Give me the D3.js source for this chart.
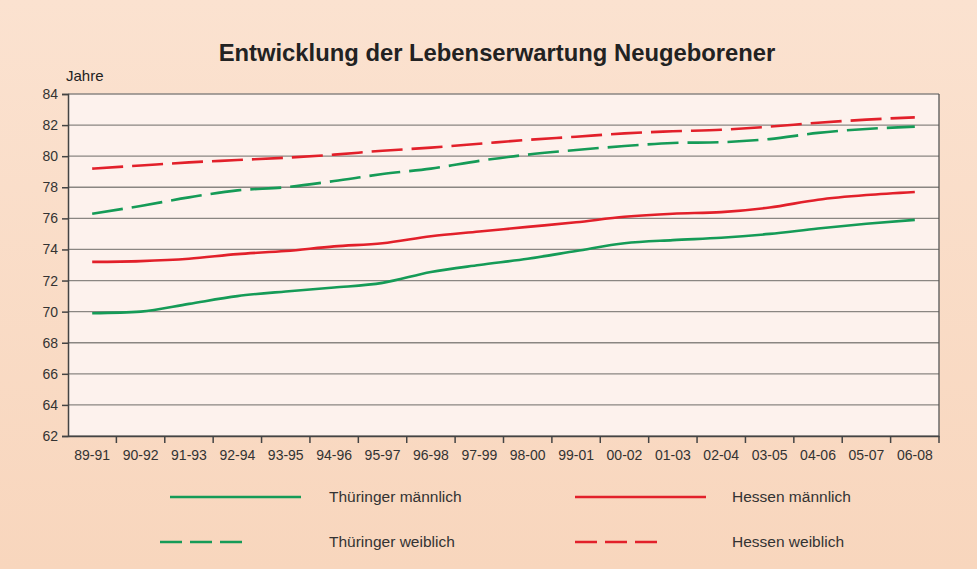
<!DOCTYPE html>
<html>
<head>
<meta charset="utf-8">
<script src="https://cdn.jsdelivr.net/npm/d3@7"></script>
<style>
  body { margin: 0; padding: 0; }
  #chart { width: 977px; height: 569px; }
  text { font-family: "Liberation Sans", Arial, sans-serif; fill: #333; }
</style>
</head>
<body>
<div id="chart"></div>
<script>
// periods on the x axis
const periods = ["89-91", "90-92", "91-93", "92-94", "93-95", "94-96", "95-97", "96-98", "97-99",
    "98-00", "99-01", "00-02", "01-03", "02-04", "03-05", "04-06", "05-07", "06-08"];

// life expectancy in years
const thueringenM = [69.9, 70.0, 70.5, 71.0, 71.3, 71.55, 71.85, 72.55, 73.0, 73.4, 73.9, 74.4,
    74.6, 74.75, 75.0, 75.35, 75.65, 75.9];
const thueringenW = [76.3, 76.8, 77.35, 77.8, 78.0, 78.4, 78.85, 79.2, 79.7, 80.1, 80.4, 80.65,
    80.85, 80.9, 81.1, 81.5, 81.75, 81.9];
const hessenM = [73.2, 73.25, 73.4, 73.7, 73.9, 74.2, 74.4, 74.85, 75.15, 75.45, 75.75, 76.1,
    76.3, 76.4, 76.7, 77.2, 77.5, 77.7];
const hessenW = [79.2, 79.4, 79.6, 79.75, 79.9, 80.1, 80.35, 80.55, 80.8, 81.05, 81.25, 81.47,
    81.6, 81.7, 81.9, 82.15, 82.35, 82.5];

const yTicks = [62, 64, 66, 68, 70, 72, 74, 76, 78, 80, 82, 84];

const seriesNames = ["Thüringer männlich", "Hessen männlich", "Thüringer weiblich", "Hessen weiblich"];

const green = "#159b57";
const red = "#e2202a";

const series = [
    {name: seriesNames[0], values: thueringenM, color: green, dashed: false},
    {name: seriesNames[1], values: hessenM, color: red, dashed: false},
    {name: seriesNames[2], values: thueringenW, color: green, dashed: true},
    {name: seriesNames[3], values: hessenW, color: red, dashed: true}
];

const W = 977, H = 569;
const margin = {top: 94, right: 38, bottom: 133, left: 68};
const width = W - margin.left - margin.right;
const height = H - margin.top - margin.bottom;

const svg = d3.select("#chart").append("svg")
    .attr("width", W)
    .attr("height", H);

// background gradient
const defs = svg.append("defs");
const grad = defs.append("linearGradient")
    .attr("id", "bg")
    .attr("x1", 0).attr("y1", 0).attr("x2", 0).attr("y2", 1);
grad.append("stop").attr("offset", "0%").attr("stop-color", "#fbe2d0");
grad.append("stop").attr("offset", "100%").attr("stop-color", "#f8d6bd");

svg.append("rect")
    .attr("width", W).attr("height", H)
    .attr("fill", "url(#bg)");

// title
svg.append("text")
    .attr("x", 497)
    .attr("y", 61)
    .attr("text-anchor", "middle")
    .style("font-size", "23.8px")
    .style("font-weight", "bold")
    .style("fill", "#222")
    .text("Entwicklung der Lebenserwartung Neugeborener");

const g = svg.append("g")
    .attr("transform", `translate(${margin.left},${margin.top})`);

// scales
const x = d3.scaleBand()
    .domain(periods)
    .range([0, width]);

const y = d3.scaleLinear()
    .domain([62, 84])
    .range([height, 0]);

// plot area
g.append("rect")
    .attr("width", width)
    .attr("height", height)
    .attr("fill", "#fdf2ed");

// gridlines
g.append("g")
    .attr("class", "grid")
    .selectAll("line")
    .data(yTicks)
    .enter().append("line")
    .attr("x1", 0)
    .attr("x2", width)
    .attr("y1", d => y(d))
    .attr("y2", d => y(d))
    .attr("stroke", "#8a8682")
    .attr("stroke-width", 1.3);

// right border
g.append("line")
    .attr("x1", width).attr("x2", width)
    .attr("y1", 0).attr("y2", height)
    .attr("stroke", "#555")
    .attr("stroke-width", 1.3);

// y axis
const yAxis = g.append("g")
    .call(d3.axisLeft(y).tickValues(yTicks).tickSize(6).tickPadding(4));
yAxis.select(".domain").attr("stroke", "#444").attr("stroke-width", 1.5);
yAxis.selectAll(".tick line").attr("stroke", "#444").attr("stroke-width", 1.5);
yAxis.selectAll("text")
    .style("font-size", "14px")
    .style("fill", "#333")
    .attr("font-family", null);

// x axis with ticks between the periods
const xAxis = g.append("g")
    .attr("transform", `translate(0,${height})`)
    .call(d3.axisBottom(x).tickSize(0).tickPadding(14));
xAxis.select(".domain").attr("stroke", "#444").attr("stroke-width", 1.5);
xAxis.selectAll("text")
    .style("font-size", "14px")
    .style("fill", "#333")
    .attr("font-family", null);

xAxis.selectAll(".sep")
    .data(periods)
    .enter().append("line")
    .attr("class", "sep")
    .attr("x1", d => x(d) + x.bandwidth())
    .attr("x2", d => x(d) + x.bandwidth())
    .attr("y1", 0)
    .attr("y2", 7)
    .attr("stroke", "#444")
    .attr("stroke-width", 1.5);

// "Jahre" label
svg.append("text")
    .attr("x", 66)
    .attr("y", 81)
    .style("font-size", "15px")
    .style("fill", "#222")
    .text("Jahre");

// lines
const line = d3.line()
    .x((d, i) => x(periods[i]) + x.bandwidth() / 2)
    .y(d => y(d))
    .curve(d3.curveMonotoneX);

g.selectAll(".series")
    .data(series)
    .enter().append("path")
    .attr("class", "series")
    .attr("d", d => line(d.values))
    .attr("fill", "none")
    .attr("stroke", d => d.color)
    .attr("stroke-width", 2.6)
    .attr("stroke-dasharray", d => d.dashed ? "31,9" : null);

// legend
const legendPos = [
    {lx: 170, tx: 329, y: 497},
    {lx: 575, tx: 732, y: 497},
    {lx: 160, tx: 329, y: 542},
    {lx: 575, tx: 732, y: 542}
];

const legend = svg.selectAll(".legend")
    .data(series)
    .enter().append("g")
    .attr("class", "legend")
    .attr("transform", (d, i) => `translate(0,${legendPos[i].y})`);

legend.append("line")
    .attr("x1", (d, i) => legendPos[i].lx)
    .attr("x2", (d, i) => legendPos[i].lx + (d.dashed ? 82 : 131))
    .attr("y1", 0)
    .attr("y2", 0)
    .attr("stroke", d => d.color)
    .attr("stroke-width", 2.6)
    .attr("stroke-dasharray", d => d.dashed ? "22,8" : null);

legend.append("text")
    .attr("x", (d, i) => legendPos[i].tx)
    .attr("y", 0)
    .attr("dy", "0.35em")
    .style("font-size", "15.5px")
    .style("fill", "#333")
    .text(d => d.name);
</script>
</body>
</html>
